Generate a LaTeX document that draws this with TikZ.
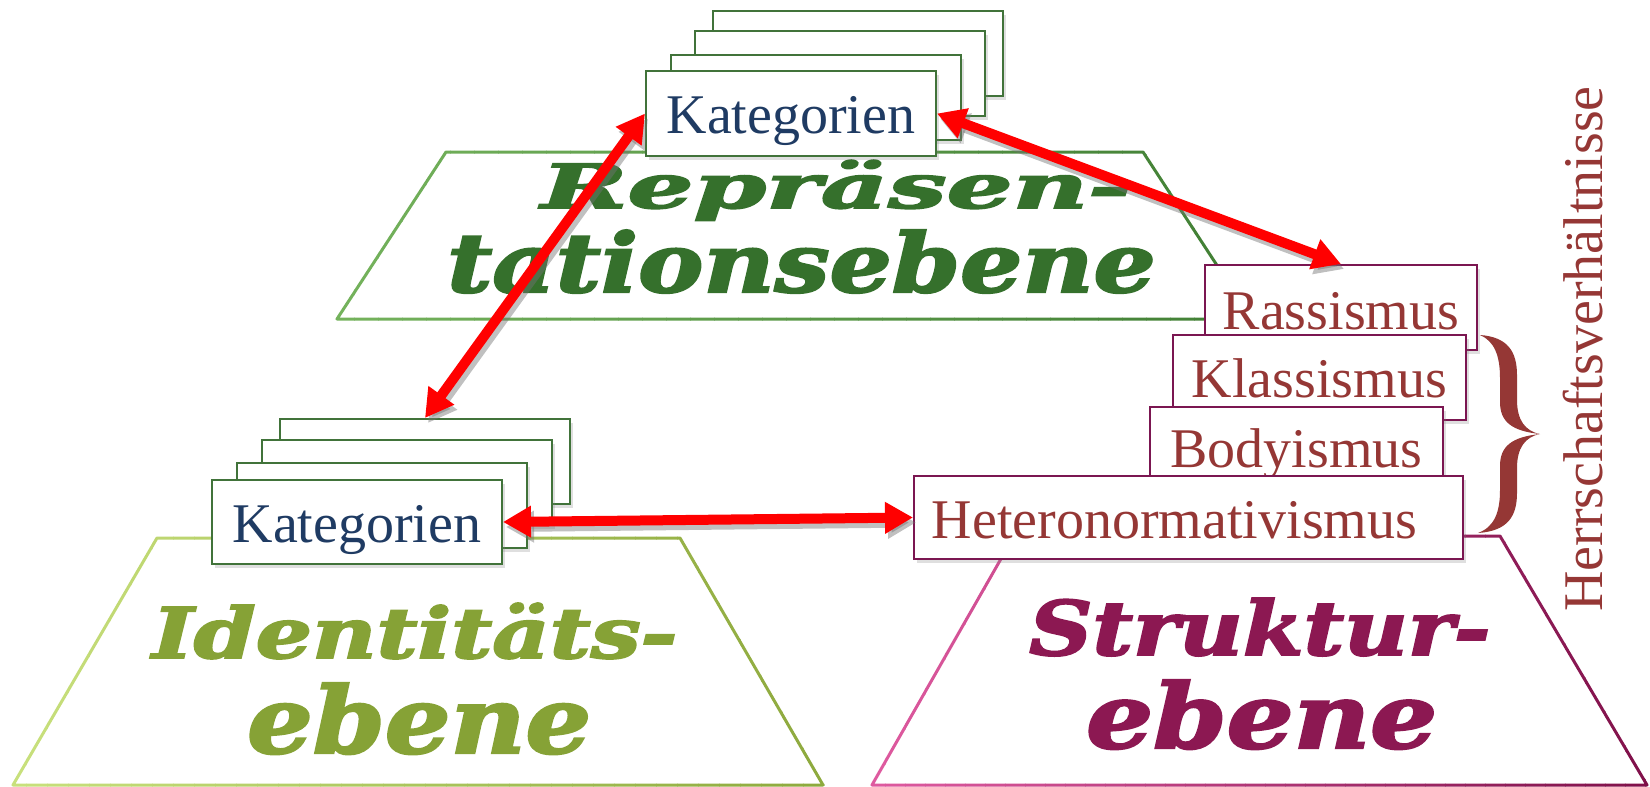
\documentclass[tikz,border=0pt]{standalone}
\usepackage{fontspec}
\setmainfont{Liberation Serif}
\newfontfamily\wafont{DejaVu Serif}
\usetikzlibrary{arrows.meta,shadows}

\definecolor{gbord}{HTML}{41733A}
\definecolor{mbord}{HTML}{7B1651}
\definecolor{katcol}{HTML}{1F3B63}
\definecolor{rcol}{HTML}{953735}
\definecolor{wagreen}{HTML}{35702C}
\definecolor{waolive}{HTML}{86A236}
\definecolor{wamaroon}{HTML}{8C1852}
\definecolor{arrred}{HTML}{FF0000}
\definecolor{tgL}{HTML}{74B25C}
\definecolor{tgR}{HTML}{3F7D33}
\definecolor{lgL}{HTML}{C8E07C}
\definecolor{lgR}{HTML}{8CA83C}
\definecolor{mgL}{HTML}{DE5A9F}
\definecolor{mgR}{HTML}{7E0F48}

% gradient outline: #1 x start, #2 strip width, #3 left colour, #4 right colour, #5 path
\newcommand{\gtrap}[5]{%
  \foreach \i in {0,...,39}{%
    \pgfmathsetmacro\xa{#1+\i*#2}%
    \pgfmathtruncatemacro\pc{\i*100/39}%
    \begin{scope}
      \clip (\xa,0) rectangle ({\xa+#2+0.6},800);
      \draw[line width=3pt, line join=round, color={#4!\pc!#3}] #5;
    \end{scope}}}

\begin{document}
\begin{tikzpicture}[x=1pt,y=-1pt,
  box/.style={draw, fill=white, line width=2pt, inner sep=0pt,
    minimum width=290pt, text height=62pt, text depth=23pt,
    font=\fontsize{56}{60}\selectfont, anchor=north west,
    drop shadow={shadow xshift=3pt, shadow yshift=-4pt, opacity=0.25}},
  gbox/.style={box, draw=gbord, text=katcol},
  mbox/.style={box, draw=mbord, text=rcol},
  redarrow/.style={draw=arrred, line width=10pt,
    {Triangle[length=28pt,width=30pt]}-{Triangle[length=28pt,width=30pt]}},
  arrshadow/.style={draw=black!55, opacity=0.45, line width=10pt,
    {Triangle[length=28pt,width=30pt]}-{Triangle[length=28pt,width=30pt]},
    transform canvas={shift={(3pt,-5pt)}}},
  waword/.style={anchor=base west, inner sep=0pt,
    font=\wafont\bfseries\itshape\addfontfeatures{FakeBold=2.5}},
]
\useasboundingbox (0,0) rectangle (1650,787);

% planes
\gtrap{330}{24}{tgL}{tgR}{(446,152) -- (1143,152) -- (1252,319) -- (337,319) -- cycle}
\gtrap{5}{21}{lgL}{lgR}{(157,538) -- (680,538) -- (823,785) -- (13,785) -- cycle}
\gtrap{865}{20}{mgL}{mgR}{(1014,536) -- (1500,536) -- (1647,785) -- (872,785) -- cycle}

% plane titles
\node[waword, text=wagreen] (rep1) at (541,208) {\resizebox{590pt}{48pt}{Repräsen-}};
\node[waword, text=wagreen] (rep2) at (447,292) {\resizebox{708pt}{62pt}{tationsebene}};
\node[waword, text=waolive] (id1) at (152,658) {\resizebox{525pt}{55pt}{Identitäts-}};
\node[waword, text=waolive] (id2) at (247,753) {\resizebox{344pt}{70pt}{ebene}};
\node[waword, text=wamaroon] (st1) at (1029,655) {\resizebox{461pt}{57pt}{Struktur-}};
\node[waword, text=wamaroon] (st2) at (1086,748) {\resizebox{351pt}{68pt}{ebene}};

% top stack
\node[gbox] (topD) at (712,10) {};
\node[gbox] (topC) at (694,30) {};
\node[gbox] (topB) at (670,54) {};
\node[gbox] (topA) at (645,70) {Kategorien};

% left stack
\node[gbox] (leftD) at (279,418) {};
\node[gbox] (leftC) at (261,439) {};
\node[gbox] (leftB) at (236,462) {};
\node[gbox, text depth=22pt] (leftA) at (211,479) {Kategorien};

% right stack
\node[mbox, minimum width=272pt, text height=64pt, text depth=21pt] (rRass) at (1204,264) {Rassismus};
\node[mbox, minimum width=293pt] (rKlass) at (1172,334) {Klassismus};
\node[mbox, minimum width=293pt, text height=60pt, text depth=25pt] (rBody) at (1149,406) {Bodyismus};
\node[mbox, minimum width=549pt, text height=62pt, text depth=21pt] (rHetero) at (913,475) {Heteronormativismus\hspace*{28pt}};

% brace
\fill[rcol] (1480,335)
  .. controls (1508,337) and (1517,352) .. (1517,375)
  -- (1517,400)
  .. controls (1517,420) and (1525,431) .. (1540,434)
  .. controls (1525,437) and (1517,448) .. (1517,468)
  -- (1517,493)
  .. controls (1517,516) and (1508,531) .. (1478,533)
  .. controls (1494,527) and (1500,513) .. (1500,490)
  -- (1500,466)
  .. controls (1500,446) and (1512,437) .. (1540,434)
  .. controls (1512,431) and (1500,422) .. (1500,402)
  -- (1500,378)
  .. controls (1500,355) and (1494,341) .. (1480,335) -- cycle;
\node[rotate=90, anchor=base, inner sep=0pt, text=rcol,
  font=\fontsize{56}{60}\selectfont] (herr) at (1602,349) {Herrschaftsverhältnisse};

% arrows
\draw[arrshadow] (leftD.north) -- (topA.west);
\draw[arrshadow] (topA.east) -- (rRass.north);
\draw[arrshadow] (leftA.east) -- (rHetero.west);
\draw[redarrow] (leftD.north) -- (topA.west);
\draw[redarrow] (topA.east) -- (rRass.north);
\draw[redarrow] (leftA.east) -- (rHetero.west);
\end{tikzpicture}
\end{document}
